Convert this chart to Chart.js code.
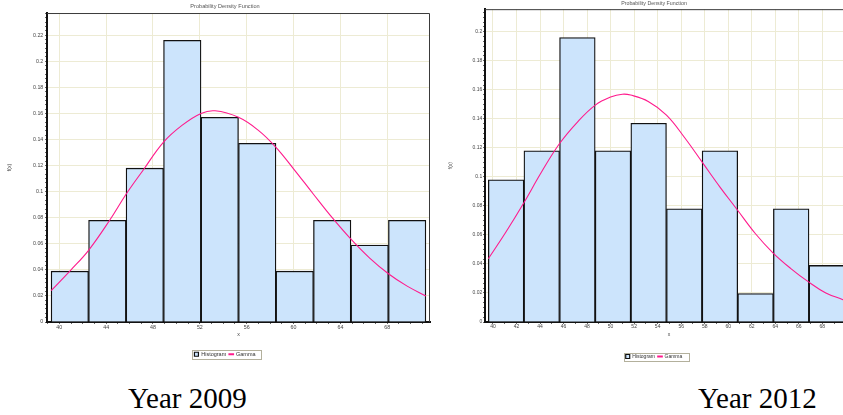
<!DOCTYPE html>
<html>
<head>
<meta charset="utf-8">
<title>Probability Density Function</title>
<script src="https://cdn.jsdelivr.net/npm/chart.js@4.4.1/dist/chart.umd.min.js"></script>
<style>
  html, body { margin: 0; padding: 0; background: #fff; overflow: hidden; }
  body { width: 843px; height: 415px; position: relative; }
  .chart-box { position: absolute; top: 0; }
  #box2009 { left: 0; width: 450px; height: 367px; }
  #box2012 { left: 440px; width: 428px; height: 369px; }
  .caption {
    position: absolute;
    font-family: "Liberation Serif", "Times New Roman", serif;
    font-size: 29px;
    line-height: 29px;
    color: #000;
    white-space: nowrap;
  }
  #cap2009 { left: 128px; top: 384px; }
  #cap2012 { left: 698px; top: 384px; }
</style>
</head>
<body>
<div class="chart-box" id="box2009"><canvas id="chart2009"></canvas></div>
<div class="chart-box" id="box2012"><canvas id="chart2012"></canvas></div>
<div class="caption" id="cap2009">Year 2009</div>
<div class="caption" id="cap2012">Year 2012</div>

<script>
// =========================
// Data - Year 2009
// =========================
const edges2009 = [39.3, 42.5, 45.7, 48.9, 52.1, 55.3, 58.5, 61.7, 64.9, 68.1, 71.3];
const freq2009 = [0.039, 0.078, 0.118, 0.216, 0.157, 0.137, 0.039, 0.078, 0.059, 0.078];
const gammaX2009 = [39.3, 41, 42.5, 44.3, 45.7, 47.2, 48.9, 50.5, 52.1, 53.3, 55.3, 57, 58.5, 60, 61.7, 63.3, 64.9, 66.5, 68.1, 69.7, 71.3];
const gammaY2009 = [0.024, 0.040, 0.055, 0.078, 0.098, 0.117, 0.138, 0.151, 0.160, 0.162, 0.157, 0.147, 0.134, 0.1175, 0.098, 0.080, 0.0635, 0.049, 0.037, 0.0275, 0.020];
const xTicks2009 = [40, 44, 48, 52, 56, 60, 64, 68];
const yTicks2009 = [0, 0.02, 0.04, 0.06, 0.08, 0.1, 0.12, 0.14, 0.16, 0.18, 0.2, 0.22];

// =========================
// Data - Year 2012
// =========================
const edges2012 = [39.6, 42.63, 45.66, 48.69, 51.72, 54.75, 57.78, 60.81, 63.84, 66.87, 69.9];
const freq2012 = [0.098, 0.118, 0.196, 0.118, 0.137, 0.078, 0.118, 0.0196, 0.078, 0.039];
const gammaX2012 = [39.6, 41.1, 42.6, 44.1, 45.66, 47.2, 48.7, 50, 51, 51.7, 53.2, 54.75, 56.3, 57.8, 59.3, 60.8, 62.3, 63.8, 65.3, 66.8, 68.3, 69.8, 70.6];
const gammaY2012 = [0.0436, 0.062, 0.0818, 0.103, 0.123, 0.138, 0.1495, 0.155, 0.157, 0.1564, 0.152, 0.1426, 0.127, 0.110, 0.093, 0.077, 0.061, 0.0477, 0.037, 0.0278, 0.020, 0.0152, 0.012];
const xTicks2012 = [40, 42, 44, 46, 48, 50, 52, 54, 56, 58, 60, 62, 64, 66, 68, 70];
const yTicks2012 = [0, 0.02, 0.04, 0.06, 0.08, 0.1, 0.12, 0.14, 0.16, 0.18, 0.2];

const FONT = '"Liberation Sans", Arial, sans-serif';
const GRID = "#edebd4";
const BAR_FILL = "#cce4fc";
const GAMMA = "#ff1a8c";

// major ticks from the list, small unlabelled ticks in between
function makeTicks(majors, minorStep, min, max) {
  const ticks = [];
  for (let k = Math.ceil(min / minorStep - 1e-9); k * minorStep <= max + 1e-9; k++) {
    const v = +(k * minorStep).toFixed(6);
    const main = majors.some((m) => Math.abs(m - v) < 1e-6);
    ticks.push({ value: v, main });
  }
  return ticks;
}

const fmt = (v) => String(Math.round(v * 100) / 100);

// =========================
// Plot frame + legend border
// =========================
const frameAndLegendBox = {
  id: "frameAndLegendBox",
  afterDraw(chart) {
    const { ctx, chartArea: a } = chart;
    ctx.save();
    ctx.strokeStyle = "#3a3a3a";
    ctx.lineWidth = 1;
    ctx.beginPath();
    ctx.moveTo(a.left, a.top + 0.5);
    ctx.lineTo(a.right - 0.5, a.top + 0.5);
    ctx.lineTo(a.right - 0.5, a.bottom);
    ctx.stroke();

    const boxes = chart.legend && chart.legend.legendHitBoxes;
    if (boxes && boxes.length) {
      const l = Math.min(...boxes.map((b) => b.left)) - 2;
      const r = Math.max(...boxes.map((b) => b.left + b.width)) + 6;
      const t = Math.min(...boxes.map((b) => b.top)) - 1.5;
      const btm = Math.max(...boxes.map((b) => b.top + b.height)) + 1.5;
      ctx.strokeStyle = "#b3b09c";
      ctx.strokeRect(Math.round(l) + 0.5, Math.round(t) + 0.5, Math.round(r - l), Math.round(btm - t));
    }
    ctx.restore();
  },
};

// =========================
// Histogram + Gamma chart
// =========================
function buildChart(canvasId, o) {
  const bars = o.freq.map((f, i) => ({ x: (o.edges[i] + o.edges[i + 1]) / 2, y: f }));
  const curve = o.gammaX.map((x, i) => ({ x, y: o.gammaY[i] }));

  return new Chart(document.getElementById(canvasId), {
    type: "bar",
    data: {
      datasets: [
        {
          type: "bar",
          label: "Histogram",
          data: bars,
          backgroundColor: BAR_FILL,
          borderColor: "#111",
          borderWidth: 1.3,
          barThickness: "flex",
          barPercentage: 1,
          categoryPercentage: 1,
          order: 2,
        },
        {
          type: "line",
          label: "Gamma",
          data: curve,
          borderColor: GAMMA,
          backgroundColor: GAMMA,
          borderWidth: 1.1,
          pointRadius: 0,
          tension: 0.4,
          order: 1,
        },
      ],
    },
    options: {
      responsive: true,
      maintainAspectRatio: false,
      animation: false,
      plugins: {
        tooltip: { enabled: false },
        title: {
          display: true,
          text: "Probability Density Function",
          color: "#555",
          font: { family: FONT, size: o.titleFont, weight: "normal" },
          padding: o.titlePad,
        },
        legend: {
          position: "bottom",
          labels: {
            usePointStyle: true,
            boxWidth: 4,
            boxHeight: 4,
            padding: 3,
            color: "#333",
            font: { family: FONT, size: o.legendFont },
            sort: (a, b) => a.datasetIndex - b.datasetIndex,
            generateLabels: (chart) => {
              const items = Chart.defaults.plugins.legend.labels.generateLabels(chart);
              items.forEach((it) => {
                if (it.text === "Gamma") {
                  it.pointStyle = "line";
                  it.lineWidth = 2;
                } else {
                  it.pointStyle = "rect";
                  it.lineWidth = 1.2;
                }
              });
              return items;
            },
          },
        },
      },
      scales: {
        x: {
          type: "linear",
          min: o.xMin,
          max: o.xMax,
          offset: false,
          grid: {
            offset: false,
            color: (c) => (c.tick && c.tick.main ? GRID : "rgba(0,0,0,0)"),
            tickColor: "#666",
            tickLength: 2,
          },
          border: { display: true, color: "#111", width: 2 },
          ticks: {
            autoSkip: false,
            maxRotation: 0,
            padding: 0,
            color: "#444",
            font: { family: FONT, size: o.tickFont },
            callback: (v, i, t) => (t[i].main ? fmt(v) : ""),
          },
          afterBuildTicks: (s) => {
            s.ticks = makeTicks(o.xTicks, 1, o.xMin, o.xMax);
          },
          afterFit: (s) => {
            s.height = o.xAxisHeight;
          },
          title: {
            display: true,
            text: "x",
            color: "#444",
            font: { family: FONT, size: o.tickFont },
            padding: { top: 0, bottom: o.xTitlePad },
          },
        },
        y: {
          type: "linear",
          min: 0,
          max: o.yMax,
          grid: {
            color: (c) => (c.tick && c.tick.main ? GRID : "rgba(0,0,0,0)"),
            tickColor: "#666",
            tickLength: 2,
          },
          border: { display: true, color: "#111", width: 2 },
          ticks: {
            autoSkip: false,
            padding: o.yTickPad,
            color: "#444",
            font: { family: FONT, size: o.tickFont },
            callback: (v, i, t) => (t[i].main ? fmt(v) : ""),
          },
          afterBuildTicks: (s) => {
            s.ticks = makeTicks(o.yTicks, 0.02 / 6, 0, o.yMax);
          },
          afterFit: (s) => {
            s.width = o.yAxisWidth;
          },
          title: {
            display: true,
            text: "f(x)",
            color: "#444",
            font: { family: FONT, size: o.tickFont },
            padding: { top: o.yTitlePad, bottom: 0 },
          },
        },
        // empty right-hand strip, keeps title and legend centred on the whole canvas
        rightGap: {
          type: "linear",
          position: "right",
          grid: { display: false },
          border: { display: false },
          ticks: { display: false },
          afterFit: (s) => {
            s.width = o.padRight;
          },
        },
      },
    },
    plugins: [frameAndLegendBox],
  });
}

document.addEventListener("DOMContentLoaded", () => {
  buildChart("chart2009", {
    edges: edges2009,
    freq: freq2009,
    gammaX: gammaX2009,
    gammaY: gammaY2009,
    xTicks: xTicks2009,
    yTicks: yTicks2009,
    xMin: 38.95,
    xMax: 71.65,
    yMax: 0.237,
    padRight: 20,
    yAxisWidth: 47,
    xAxisHeight: 26.5,
    xTitlePad: 11.2,
    yTitlePad: 6.7,
    yTickPad: 1.7,
    tickFont: 5.3,
    titleFont: 5.6,
    legendFont: 5.5,
    titlePad: { top: 3.3, bottom: 3 },
  });

  buildChart("chart2012", {
    edges: edges2012,
    freq: freq2012,
    gammaX: gammaX2012,
    gammaY: gammaY2012,
    xTicks: xTicks2012,
    yTicks: yTicks2012,
    xMin: 39.32,
    xMax: 70.61,
    yMax: 0.2156,
    padRight: 15,
    yAxisWidth: 45,
    xAxisHeight: 29,
    xTitlePad: 13,
    yTitlePad: 8,
    yTickPad: 0.8,
    tickFont: 5,
    titleFont: 5.3,
    legendFont: 5,
    titlePad: { top: 0, bottom: 2.8 },
  });
});
</script>
</body>
</html>
